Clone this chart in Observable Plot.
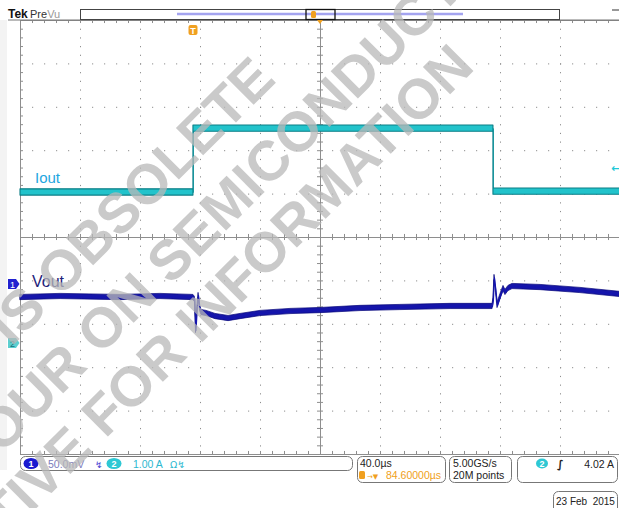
<!DOCTYPE html>
<html><head><meta charset="utf-8">
<script src="https://cdn.jsdelivr.net/npm/d3@7"></script>
<script src="https://cdn.jsdelivr.net/npm/@observablehq/plot@0.6"></script>
<style>
html,body{margin:0;padding:0;background:#fff;}
#chart{width:619px;height:508px;overflow:hidden;}
svg{display:block;}
</style></head><body><div id="chart"></div>
<script>
// ---------- data ----------
// time in µs from the left edge of the screen (40 µs/div, 10 div)
const ioutTime = [0, 115.3, 115.3, 315.3, 315.3, 400];
// channel 2 current, A (1.00 A/div)
const ioutAmps = [3.48, 3.48, 4.95, 4.95, 3.50, 3.50];
const voutTime = [0, 26.7, 66.7, 93.3, 115.3, 116.3, 117.0, 118.0, 118.7, 119.7, 120.7, 124.0, 130.0, 138.7, 146.7, 160.0, 180.0, 200.0, 226.7, 253.3, 286.7, 314.7, 315.3, 316.0, 317.0, 318.0, 320.0, 322.0, 323.3, 325.3, 328.0, 346.7, 373.3, 400];
// channel 1 voltage deviation, mV (50.0 mV/div) relative to its marker
const voutMv = [-15.0, -13.8, -15.0, -13.8, -15.0, -17.3, -53.0, -25.3, -12.7, -27.6, -32.3, -33.4, -36.9, -39.2, -36.9, -33.4, -31.1, -30.0, -27.6, -26.5, -25.3, -25.3, -18.4, 8.1, -6.9, -24.2, -13.8, -4.6, -9.2, -4.6, -2.3, -3.5, -6.9, -11.5];
// scope settings
const ch1Offset = -1.083;   // div
const ch2Offset = -2.442;   // div
const ch1Scale = 50;        // mV/div
const ch2Scale = 1;         // A/div
const statusTexts = {
  ch1: "50.0mV", ch2: "1.00 A", timebase: "40.0µs", delay: "84.60000µs",
  rate: "5.00GS/s", points: "20M points", trigLevel: "4.02 A", date: "23 Feb  2015"
};
const watermarkLines = ["IS OBSOLETE", "YOUR ON SEMICONDUCTOR", "REPRESENTATIVE FOR INFORMATION"];

// ---------- derived tables ----------
const iout = ioutTime.map((t, i) => ({t, d: ioutAmps[i] / ch2Scale + ch2Offset}));
const vout = voutTime.map((t, i) => ({t, d: voutMv[i] / ch1Scale + ch1Offset}));

const minorX = d3.range(0, 400.001, 8);
const minorY = d3.range(-5, 5.0001, 0.2);
const majorX = d3.range(40, 400, 40).filter(v => v !== 200);
const majorY = d3.range(-4, 5, 1).filter(v => v !== 0);
const tx = 2, ty = 0.07;
const G = "#8e8e8e";

const svg = Plot.plot({
  width: 619, height: 508,
  marginLeft: 20, marginRight: 0, marginTop: 20, marginBottom: 54,
  style: {background: "#fff", fontFamily: "Liberation Sans, Arial, sans-serif"},
  x: {domain: [0, 400], range: [20, 620], axis: null},
  y: {domain: [-5, 5], range: [454, 20], axis: null},
  marks: [
    Plot.ruleX(majorX, {stroke: G, strokeDasharray: "1.2,7.48"}),
    Plot.ruleY(majorY, {stroke: G, strokeDasharray: "1.2,10.8"}),
    Plot.ruleX([200], {stroke: G}),
    Plot.ruleY([0], {stroke: G}),
    Plot.ruleX([0], {stroke: G}),
    Plot.ruleY([5, -5], {stroke: G}),
    Plot.ruleX(minorX, {y1: -ty, y2: ty, stroke: G}),
    Plot.ruleY(minorY, {x1: 200 - tx, x2: 200 + tx, stroke: G}),
    Plot.ruleX(minorX, {y1: 5, y2: 5 - ty, stroke: G}),
    Plot.ruleX(minorX, {y1: -5, y2: -5 + ty, stroke: G}),
    Plot.ruleY(minorY, {x1: 0, x2: tx, stroke: G}),
    // Iout trace
    Plot.line(iout, {x: "t", y: "d", stroke: "#1aa8b0", strokeWidth: 1}),
    Plot.areaY(iout, {x: "t", y1: d => d.d - 0.072, y2: d => d.d + 0.072, fill: "#22c3cb", stroke: "#0b7e86", strokeWidth: 1.1}),
    // Vout trace
    Plot.areaY(vout, {x: "t", y1: d => d.d - 0.06, y2: d => d.d + 0.06, fill: "#1616a8", stroke: "#05057a", strokeWidth: 0.7}),
    Plot.line(vout, {x: "t", y: "d", stroke: "#1414b0", strokeWidth: 1.1})
  ]
});
document.getElementById("chart").appendChild(svg);

const s = d3.select(svg).attr("text-anchor", "start");
const FONT = "Liberation Sans, Arial, sans-serif";

// left strip
s.insert("rect", ":first-child").attr("x", 0).attr("y", 20).attr("width", 7).attr("height", 450).attr("fill", "#f3f3f3");

function txt(x, y, t, fill, opts = {}) {
  return s.append("text").attr("x", x).attr("y", y).attr("font-family", opts.family || FONT).attr("font-size", opts.size || 10.5)
    .attr("text-anchor", opts.anchor || "start").attr("font-weight", opts.weight || "normal").attr("fill", fill).text(t);
}

// header
s.append("line").attr("x1", 8).attr("x2", 619).attr("y1", 20).attr("y2", 20).attr("stroke", "#777");
txt(8, 18, "Tek", "#111", {size: 12, weight: "bold"});
const pv = txt(30, 18, "", "#333", {size: 11});
pv.append("tspan").text("Pre");
pv.append("tspan").attr("fill", "#999").text("Vu");
s.append("rect").attr("x", 80.5).attr("y", 9.5).attr("width", 479).attr("height", 10).attr("fill", "#fff").attr("stroke", "#444");
s.append("line").attr("x1", 177).attr("x2", 463).attr("y1", 14).attr("y2", 14).attr("stroke", "#a4a4f0").attr("stroke-width", 2.5);
s.append("rect").attr("x", 306).attr("y", 9.5).attr("width", 29).attr("height", 10).attr("fill", "none").attr("stroke", "#111").attr("stroke-width", 1.3);
s.append("rect").attr("x", 311).attr("y", 11).attr("width", 5).attr("height", 7).attr("rx", 1.5).attr("fill", "#f0a020");
s.append("path").attr("d", "M317,20 L323,20 L320,24 Z").attr("fill", "#f0a020");
s.append("line").attr("x1", 612).attr("x2", 619).attr("y1", 10).attr("y2", 10).attr("stroke", "#333");

// trigger position marker
s.append("rect").attr("x", 188.5).attr("y", 25).attr("width", 9).attr("height", 10).attr("rx", 2).attr("fill", "#f0a020");
txt(193, 33.5, "T", "#fff", {size: 9, weight: "bold", anchor: "middle"});

// trigger level arrow
txt(611, 172, "←", "#20c8d8", {size: 11, weight: "bold", family: "DejaVu Sans"});

// channel markers
s.append("path").attr("d", "M8,279 H16 L19.5,284 L16,289 H8 Z").attr("fill", "#2222d0");
txt(12.5, 287.5, "1", "#fff", {size: 9, anchor: "middle"});
s.append("path").attr("d", "M8,338 H16 L19.5,343 L16,348 H8 Z").attr("fill", "#5ccfd0");
txt(12.5, 346.5, "2", "#1a6f78", {size: 9, anchor: "middle"});

// trace labels
txt(35, 183, "Iout", "#1ea6e0", {size: 15});
txt(32, 287, "Vout", "#22227a", {size: 16});

// status boxes
function box(x, y, w, h) {
  s.append("rect").attr("x", x).attr("y", y).attr("width", w).attr("height", h).attr("rx", 5).attr("fill", "#fff").attr("stroke", "#777");
}
box(20.5, 456.5, 332, 14);
box(357.5, 456.5, 88, 26);
box(449.5, 456.5, 62, 26);
box(517.5, 456.5, 100, 26);
box(553.5, 491.5, 64, 22);

s.append("ellipse").attr("cx", 31).attr("cy", 463.5).attr("rx", 7.5).attr("ry", 5.5).attr("fill", "#1a1ad0");
txt(31, 467, "1", "#fff", {size: 9, anchor: "middle", weight: "bold"});
txt(48, 468, statusTexts.ch1, "#7c7cbc");
txt(95, 468, "↯", "#3a3ad0", {size: 9, family: "DejaVu Sans"});
s.append("ellipse").attr("cx", 114).attr("cy", 463.5).attr("rx", 7.5).attr("ry", 5.5).attr("fill", "#2ec8d4");
txt(114, 467, "2", "#fff", {size: 9, anchor: "middle", weight: "bold"});
txt(133, 468, statusTexts.ch2, "#2cb8d0");
txt(170, 468, "Ω↯", "#2cb8d0", {size: 9.5, family: "DejaVu Sans"});

txt(360, 467, statusTexts.timebase, "#222");
s.append("rect").attr("x", 359).attr("y", 471).attr("width", 6).attr("height", 8).attr("rx", 1.5).attr("fill", "#f0a020");
txt(367, 479, "→▼", "#f0a020", {size: 7, family: "DejaVu Sans"});
txt(386, 479, statusTexts.delay, "#f0a020");
txt(453, 467, statusTexts.rate, "#222");
txt(453, 479, statusTexts.points, "#222");
s.append("ellipse").attr("cx", 542).attr("cy", 463.5).attr("rx", 6).attr("ry", 5).attr("fill", "#2ec8d4");
txt(542, 467, "2", "#fff", {size: 9, anchor: "middle", weight: "bold"});
txt(557, 468, "∫", "#222", {size: 11, weight: "bold", family: "DejaVu Sans"});
txt(614, 468, statusTexts.trigLevel, "#222", {anchor: "end"});
txt(556, 505, statusTexts.date, "#222", {size: 10});

// watermark (placed so a reference letter lands on a given point)
const wmPlace = [
  {line: 0, ref: 10, px: 250, py: 80},
  {line: 1, ref: 6, px: 131, py: 297},
  {line: 2, ref: 15, px: 103, py: 413}
];
const wg = s.append("g").attr("opacity", 0.75);
wmPlace.forEach(p => {
  const t = wg.append("text")
    .attr("transform", `translate(${p.px},${p.py}) rotate(-45)`)
    .attr("dy", "0.36em").attr("text-anchor", "start")
    .attr("font-family", FONT).attr("font-size", 56).attr("font-weight", "bold")
    .attr("fill", "#b9b9b9").text(watermarkLines[p.line]);
  const node = t.node();
  const off = node.getSubStringLength(0, p.ref) + node.getSubStringLength(p.ref, 1) / 2;
  t.attr("x", -off);
});
</script></body></html>
